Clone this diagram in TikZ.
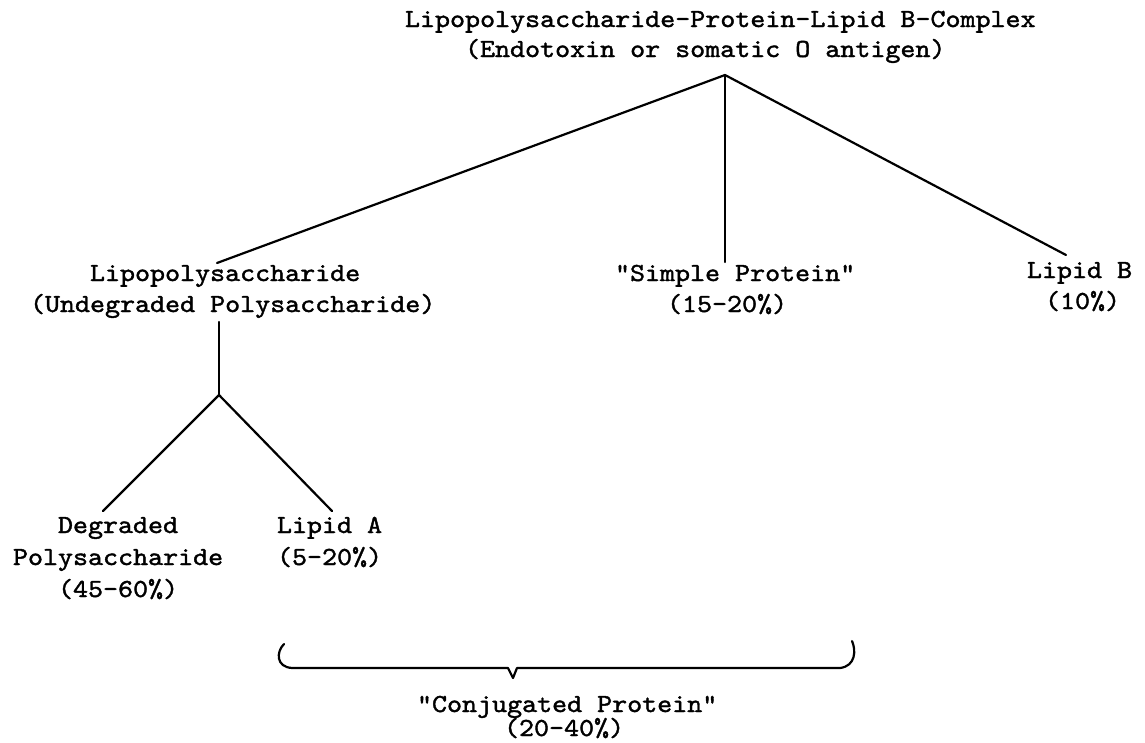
\documentclass[tikz,border=0pt]{standalone}
\usepackage{fontspec}
\newfontfamily\tw{lmmono10-regular.otf}[FakeStretch=1.1,FakeBold=1.5]
\tikzset{
  lbl/.style={font=\tw\fontsize{26}{31}\selectfont, inner sep=0pt, outer sep=0pt, anchor=base west},
  conn/.style={line width=2.2pt, line cap=round, line join=round}
}
\begin{document}
\begin{tikzpicture}[x=1pt,y=-1pt]
\useasboundingbox (0,0) rectangle (1145,742);
% title
\node[lbl] (t1) at (405,27) {Lipopolysaccharide-Protein-Lipid B-Complex};
\node[lbl] (t2) at (465,57) {(Endotoxin or somatic O antigen)};
% second row
\node[lbl] (lp1) at (90,281) {Lipopolysaccharide};
\node[lbl] (lp2) at (30,312) {(Undegraded Polysaccharide)};
\node[lbl] (sp1) at (615,281) {"Simple Protein"};
\node[lbl] (sp2) at (667,312) {(15-20\%)};
\node[lbl] (lb1) at (1027,278) {Lipid B};
\node[lbl] (lb2) at (1045,309) {(10\%)};
% third row
\node[lbl] (dg1) at (58,533) {Degraded};
\node[lbl] (dg2) at (13,565) {Polysaccharide};
\node[lbl] (dg3) at (58,597) {(45-60\%)};
\node[lbl] (la1) at (277,533) {Lipid A};
\node[lbl] (la2) at (277,565) {(5-20\%)};
% bottom
\node[lbl] (cp1) at (417,712) {"Conjugated Protein"};
\node[lbl] (cp2) at (504,736) {(20-40\%)};
% connectors
\coordinate (apex) at (725,75);
\coordinate (lpTop) at (217,263);
\coordinate (spTop) at (725,262);
\coordinate (lbTop) at (1066,255);
\draw[conn] (lpTop) -- (apex) -- (lbTop);
\draw[conn] (apex) -- (spTop);
\coordinate (lpBot) at (219,322);
\coordinate (fork) at (219,395);
\coordinate (dgTop) at (103,511);
\coordinate (laTop) at (332,511);
\draw[conn] (lpBot) -- (fork);
\draw[conn] (dgTop) -- (fork) -- (laTop);
% brace
\coordinate (brL) at (284,644);
\coordinate (brR) at (852,641);
\coordinate (tip) at (513,678);
\draw[conn] (brL) .. controls (276,652) and (276,667) .. (292,668)
  -- (508,668) -- (tip) -- (517,668) -- (840,668)
  .. controls (856,666) and (856,650) .. (brR);
\end{tikzpicture}
\end{document}
